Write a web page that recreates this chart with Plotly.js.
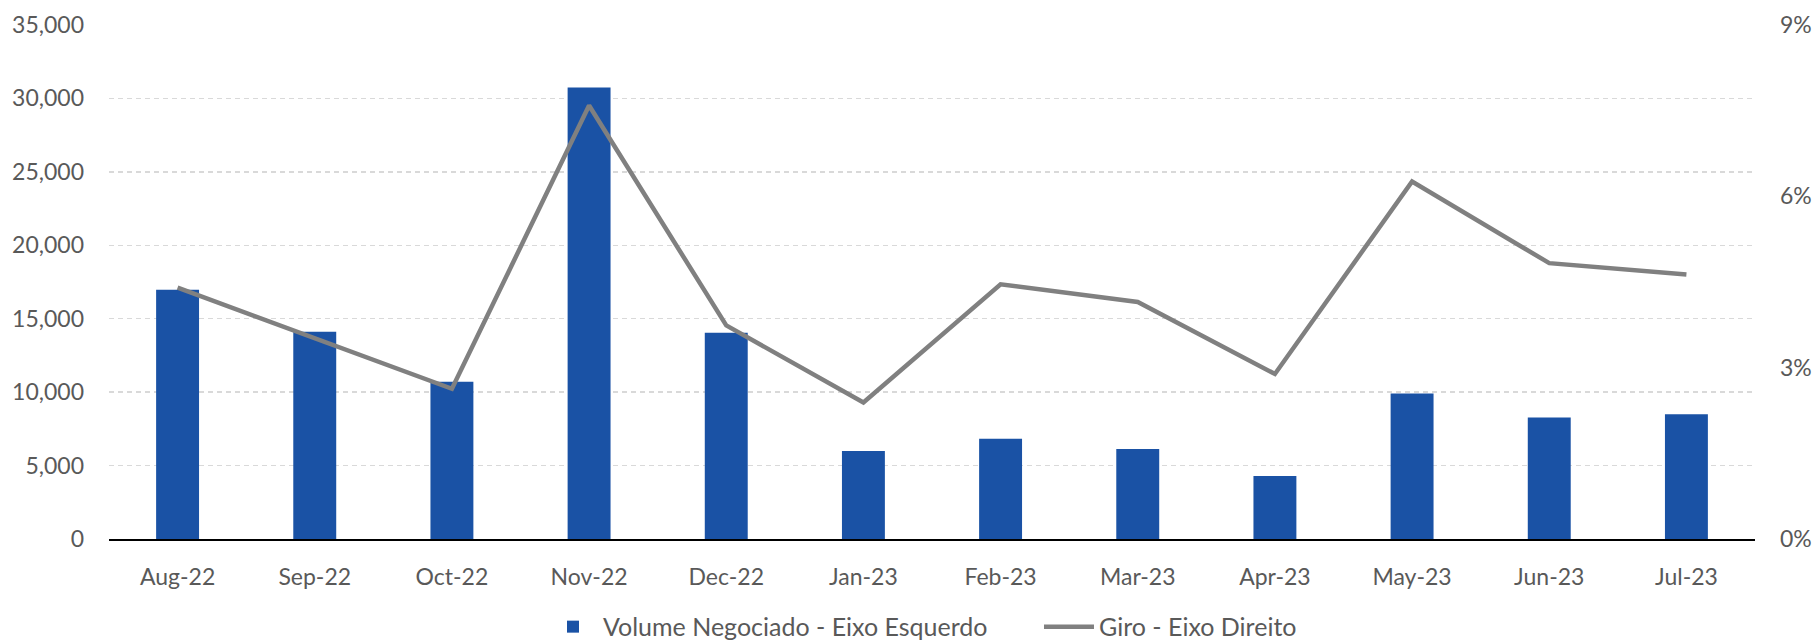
<!DOCTYPE html>
<html>
<head>
<meta charset="utf-8">
<script src="https://cdn.plot.ly/plotly-3.0.1.min.js"></script>
<style>
  html, body { margin: 0; padding: 0; background: #ffffff; }
  #chart { width: 1817px; height: 642px; }
</style>
</head>
<body>
<div id="chart"></div>
<script>
const categories = ["Aug-22", "Sep-22", "Oct-22", "Nov-22", "Dec-22", "Jan-23", "Feb-23", "Mar-23", "Apr-23", "May-23", "Jun-23", "Jul-23"];
const volumeNegociado = [16980, 14110, 10700, 30750, 14050, 6000, 6830, 6130, 4290, 9910, 8270, 8500];
const giro = [0.0440, 0.0351, 0.0263, 0.0759, 0.0374, 0.0239, 0.0446, 0.0415, 0.0289, 0.0626, 0.0483, 0.0463];
const seriesNames = ["Volume Negociado - Eixo Esquerdo", "Giro - Eixo Direito"];
const leftTicks = [0, 5000, 10000, 15000, 20000, 25000, 30000, 35000];
const rightTicks = [0, 0.03, 0.06, 0.09];

const FONT = "Lato, 'Open Sans', sans-serif";
const TXT = "#595959";

const traces = [
  {
    type: "bar",
    name: seriesNames[0],
    x: categories,
    y: volumeNegociado,
    marker: { color: "#1A52A5", line: { width: 0 } },
    yaxis: "y",
    hoverinfo: "x+y"
  },
  {
    type: "scatter",
    mode: "lines",
    name: seriesNames[1],
    x: categories,
    y: giro,
    line: { color: "#808080", width: 4.5 },
    yaxis: "y2",
    hoverinfo: "x+y"
  }
];

const layout = {
  width: 1817,
  height: 642,
  margin: { l: 109, r: 62, t: 25, b: 103, pad: 0, autoexpand: false },
  paper_bgcolor: "#ffffff",
  plot_bgcolor: "#ffffff",
  font: { family: FONT, size: 23, color: TXT },
  bargap: 0.687,
  showlegend: true,
  legend: {
    orientation: "h",
    x: 0.565,
    xanchor: "center",
    y: -0.171,
    yanchor: "middle",
    font: { family: FONT, size: 25, color: TXT },
    itemwidth: 50,
    entrywidth: 431,
    traceorder: "normal",
    bgcolor: "rgba(0,0,0,0)"
  },
  xaxis: {
    type: "category",
    range: [-0.5, 11.5],
    showgrid: false,
    zeroline: false,
    showline: true,
    linecolor: "#000000",
    linewidth: 2,
    ticks: "",
    ticklabelstandoff: 16,
    tickfont: { family: FONT, size: 23, color: TXT },
    fixedrange: true
  },
  yaxis: {
    range: [0, 35000],
    tickvals: leftTicks,
    tickformat: ",",
    showgrid: true,
    gridcolor: "#D9D9D9",
    gridwidth: 1.5,
    griddash: "5px,4px",
    zeroline: false,
    showline: false,
    ticks: "",
    ticklabelstandoff: 24,
    tickfont: { family: FONT, size: 23, color: TXT },
    fixedrange: true
  },
  yaxis2: {
    range: [0, 0.09],
    tickvals: rightTicks,
    tickformat: ".0%",
    overlaying: "y",
    side: "right",
    showgrid: false,
    zeroline: false,
    showline: false,
    ticks: "",
    ticklabelstandoff: 24,
    tickfont: { family: FONT, size: 23, color: TXT },
    fixedrange: true
  }
};

Plotly.newPlot("chart", traces, layout, { displayModeBar: false, staticPlot: true });
</script>
</body>
</html>
